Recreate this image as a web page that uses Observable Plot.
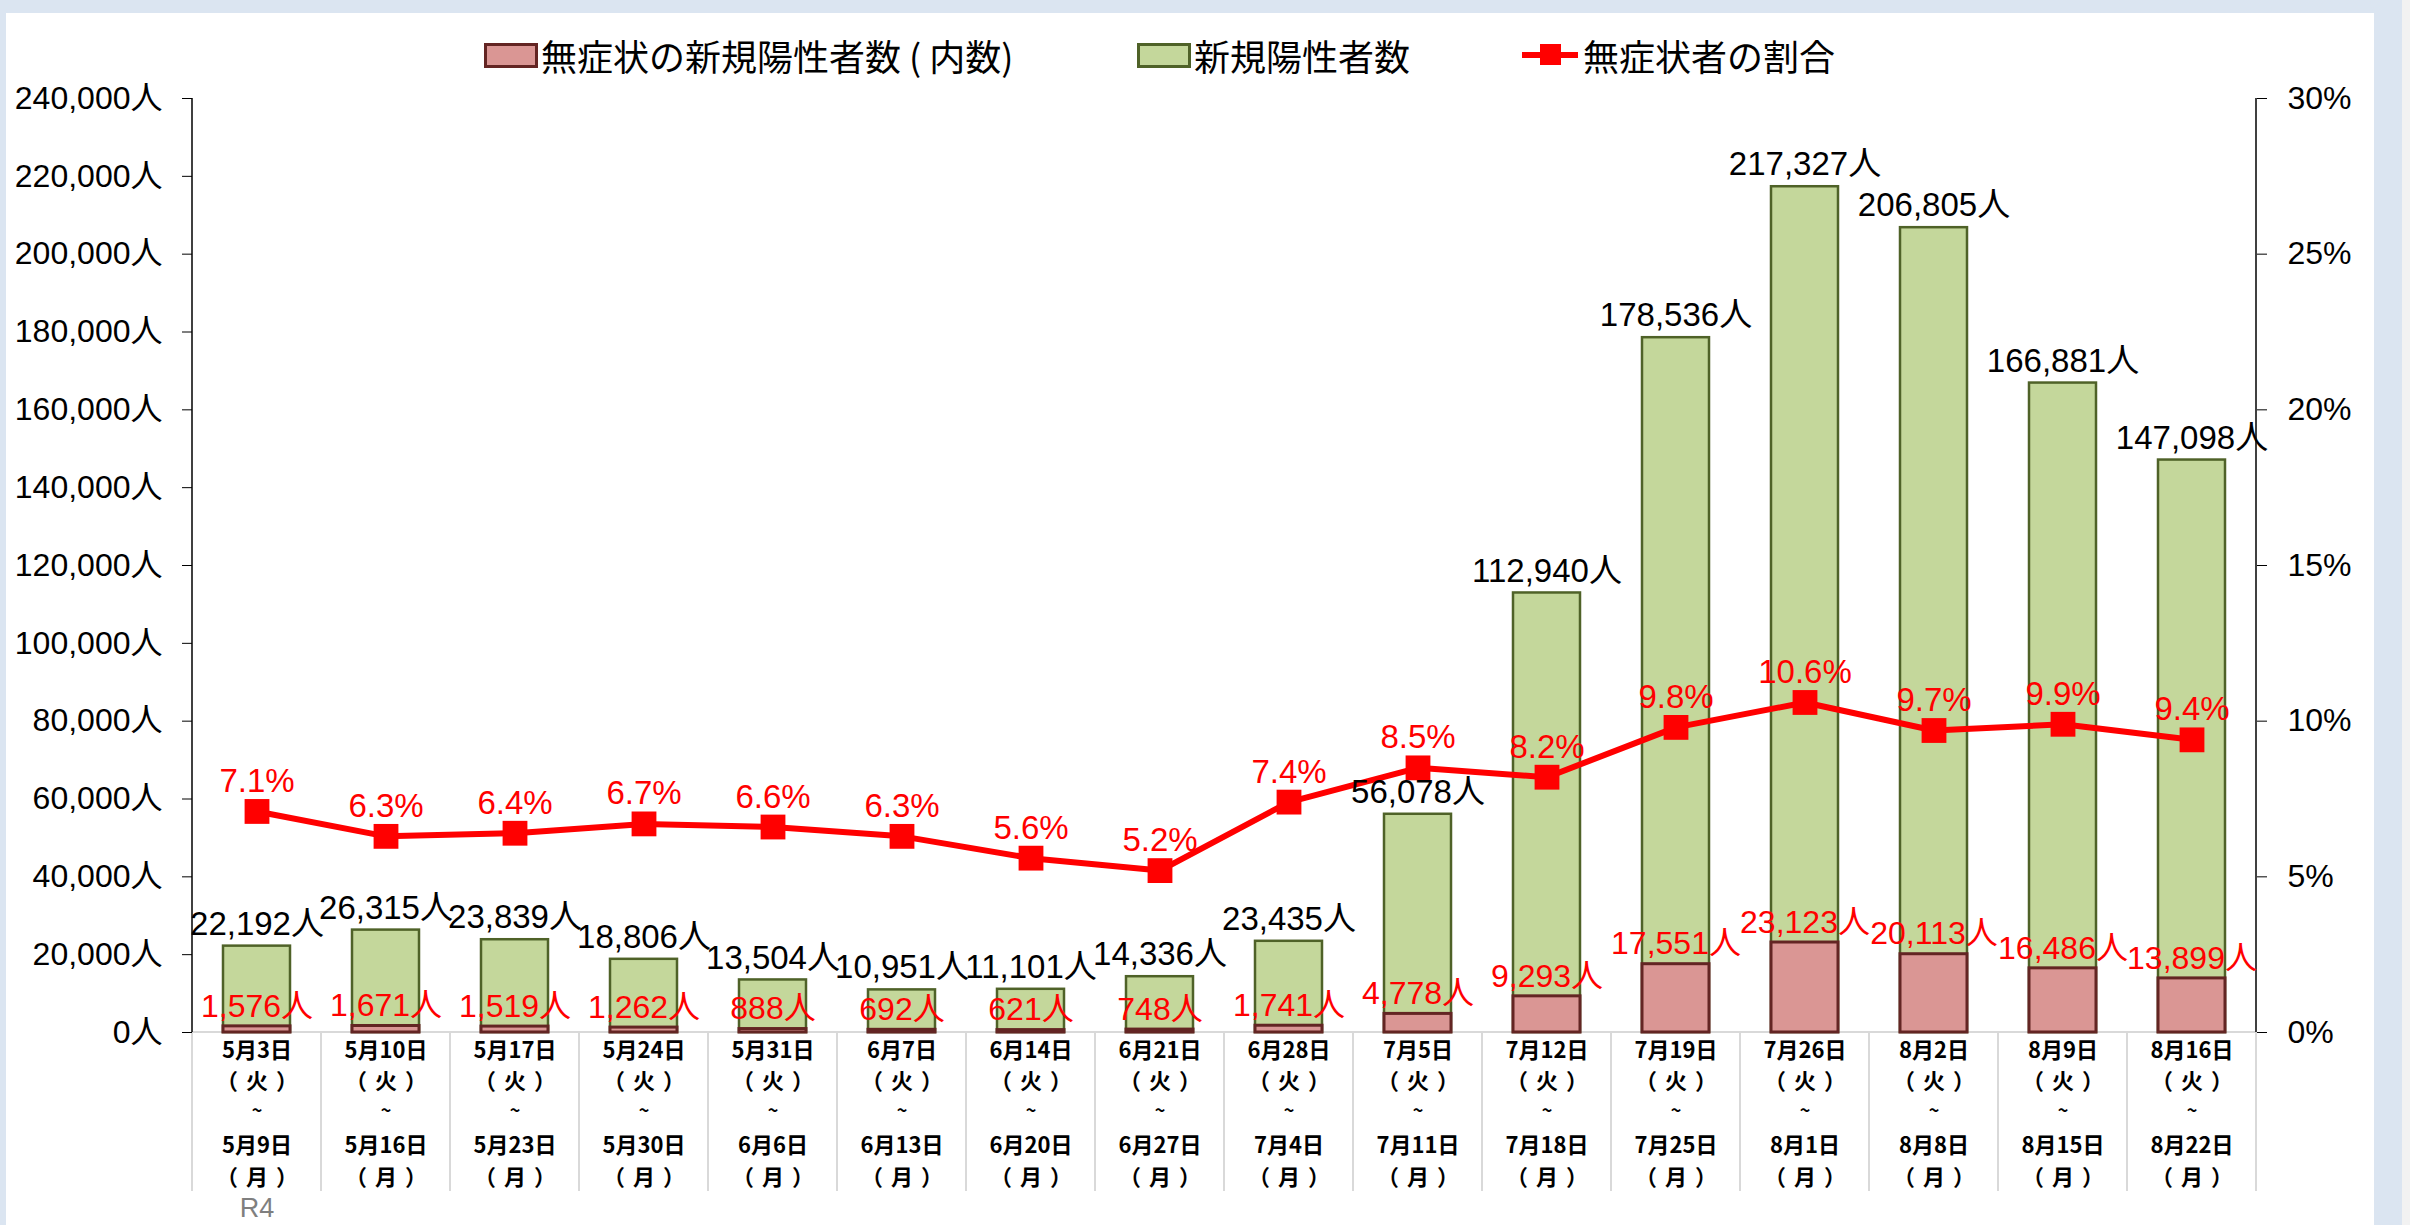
<!DOCTYPE html>
<html><head><meta charset="utf-8">
<script src="https://cdn.jsdelivr.net/npm/d3@7"></script>
<script src="https://cdn.jsdelivr.net/npm/@observablehq/plot@0.6"></script>
<style>
html,body{margin:0;padding:0;width:2410px;height:1225px;overflow:hidden;background:#dbe5f1;font-family:"Liberation Sans",Arial,"Noto Sans CJK JP",sans-serif;}
#panel{position:absolute;left:6px;top:13px;width:2368px;height:1212px;background:#fff;}
#edge{position:absolute;left:2402px;top:0;width:8px;height:1225px;background:#f2f2f2;}
.item{position:absolute;top:36px;height:38px;display:flex;align-items:center;font-size:36px;font-family:"Noto Sans CJK JP",sans-serif;color:#000;white-space:nowrap;line-height:1;}
.sw{box-sizing:border-box;width:54px;height:25px;margin-right:3px;}
.ln{position:relative;width:56px;height:6px;background:#ff0000;margin-right:5px;}
.ln::after{content:"";position:absolute;left:18px;top:-8px;width:21px;height:21px;background:#ff0000;}
#chart{position:absolute;left:6px;top:70px;}
</style></head>
<body>
<div id="panel"></div>
<div id="edge"></div>
<div class="item" style="left:484px"><div class="sw" style="background:#da9694;border:3px solid #632523"></div>無症状の新規陽性者数 ( 内数)</div>
<div class="item" style="left:1137px"><div class="sw" style="background:#c4d79b;border:3px solid #4f6228"></div>新規陽性者数</div>
<div class="item" style="left:1522px"><div class="ln"></div>無症状者の割合</div>
<div id="chart"></div>
<script>
const startDates = ["5月3日","5月10日","5月17日","5月24日","5月31日","6月7日","6月14日","6月21日","6月28日","7月5日","7月12日","7月19日","7月26日","8月2日","8月9日","8月16日"];
const endDates = ["5月9日","5月16日","5月23日","5月30日","6月6日","6月13日","6月20日","6月27日","7月4日","7月11日","7月18日","7月25日","8月1日","8月8日","8月15日","8月22日"];
const startDow = "（火）";
const endDow = "（月）";
const totals = [22192,26315,23839,18806,13504,10951,11101,14336,23435,56078,112940,178536,217327,206805,166881,147098];
const asymptomatic = [1576,1671,1519,1262,888,692,621,748,1741,4778,9293,17551,23123,20113,16486,13899];
const ratioPct = [7.1,6.3,6.4,6.7,6.6,6.3,5.6,5.2,7.4,8.5,8.2,9.8,10.6,9.7,9.9,9.4];
const leftTicks = [0,20000,40000,60000,80000,100000,120000,140000,160000,180000,200000,220000,240000];
const rightTicks = [0,5,10,15,20,25,30];
const eraLabel = "R4";

const K = 240000 / 30; // right axis: 30% ↔ 240,000人
const rows = startDates.map((s, i) => ({
  cat: s, end: endDates[i], total: totals[i], asym: asymptomatic[i], pct: ratioPct[i], pctY: ratioPct[i] * K
}));
const fmt = d3.format(",");
const FONT = '"Liberation Sans", Arial, "Noto Sans CJK JP", sans-serif';
const CJK = '"Noto Sans CJK JP", "Liberation Sans", sans-serif';

function frameLines(index, scales, values, dims) {
  const x = scales.x, y = scales.y;
  const step = x(startDates[1]) - x(startDates[0]);
  const x0 = x(startDates[0]);
  const x1 = x0 + step * startDates.length;
  const g = d3.create("svg:g");
  const yb = y(0);
  for (let i = 0; i <= startDates.length; i++) {
    g.append("line").attr("x1", x0 + i * step).attr("x2", x0 + i * step)
      .attr("y1", yb).attr("y2", yb + 159).attr("stroke", "#d9d9d9").attr("stroke-width", 2);
  }
  g.append("line").attr("x1", x0).attr("x2", x1).attr("y1", yb).attr("y2", yb)
    .attr("stroke", "#d9d9d9").attr("stroke-width", 2);
  return g.node();
}
function axisLines(index, scales, values, dims) {
  const x = scales.x, y = scales.y;
  const step = x(startDates[1]) - x(startDates[0]);
  const x0 = x(startDates[0]);
  const x1 = x0 + step * startDates.length;
  const g = d3.create("svg:g");
  [x0, x1].forEach(xx => g.append("line").attr("x1", xx).attr("x2", xx)
    .attr("y1", y(240000)).attr("y2", y(0)).attr("stroke", "#000").attr("stroke-width", 1.5));
  return g.node();
}

const lbl = {fontSize: 22, fontWeight: "bold", fontFamily: CJK, fill: "#000", frameAnchor: "bottom"};
const chart = Plot.plot({
  width: 2368, height: 1155,
  marginLeft: 186, marginRight: 118, marginTop: 28, marginBottom: 193,
  style: {background: "transparent", fontFamily: FONT, fontSize: "32px", color: "#000"},
  x: {domain: startDates, padding: 0, axis: null},
  y: {domain: [0, 240000], axis: null},
  marks: [
    frameLines,
    Plot.barY(rows, {x: "cat", y: "total", fill: "#c4d79b", stroke: "#4f6228", strokeWidth: 2.5, insetLeft: 31, insetRight: 31}),
    Plot.barY(rows, {x: "cat", y: "asym", fill: "#da9694", stroke: "#632523", strokeWidth: 3, insetLeft: 31, insetRight: 31}),
    Plot.axisY(leftTicks, {anchor: "left", tickSize: 10, tickPadding: 20, tickFormat: d => fmt(d) + "人", fontSize: 32, fontFamily: FONT, label: null}),
    Plot.axisY(rightTicks.map(p => p * K), {anchor: "right", tickSize: 10, tickPadding: 21, tickFormat: d => (d / K) + "%", fontSize: 32, fontFamily: FONT, label: null}),
    axisLines,
    Plot.line(rows, {x: "cat", y: "pctY", stroke: "#ff0000", strokeWidth: 6}),
    Plot.dot(rows, {x: "cat", y: "pctY", symbol: "square", r: 14, fill: "#ff0000"}),
    Plot.text(rows, {x: "cat", y: "total", text: d => fmt(d.total) + "人", dy: -22, fontSize: 33, fill: "#000", fontFamily: FONT}),
    Plot.text(rows, {x: "cat", y: "asym", text: d => fmt(d.asym) + "人", dy: -20, fontSize: 32, fill: "#ff0000", fontFamily: FONT}),
    Plot.text(rows, {x: "cat", y: "pctY", text: d => d.pct.toFixed(1) + "%", dy: -30, fontSize: 33, fill: "#ff0000", fontFamily: FONT}),
    Plot.text(rows, {...lbl, x: "cat", text: "cat", dy: 25}),
    Plot.text(rows, {...lbl, x: "cat", text: () => startDow, dy: 56}),
    Plot.text(rows, {...lbl, x: "cat", text: () => "~", dy: 84, fontSize: 18}),
    Plot.text(rows, {...lbl, x: "cat", text: "end", dy: 120}),
    Plot.text(rows, {...lbl, x: "cat", text: () => endDow, dy: 152}),
    Plot.text([startDates[0]], {x: d => d, frameAnchor: "bottom", text: () => eraLabel, dy: 184, fontSize: 27, fill: "#7f7f7f", fontFamily: '"Liberation Sans Narrow", "Liberation Sans", Arial, sans-serif'})
  ]
});
d3.select(chart).selectAll("text")
  .filter(function() { return this.textContent === startDow || this.textContent === endDow; })
  .attr("letter-spacing", "8px")
  .style("letter-spacing", "8px")
  .attr("dx", 4);
document.getElementById("chart").appendChild(chart);
</script>
</body></html>
